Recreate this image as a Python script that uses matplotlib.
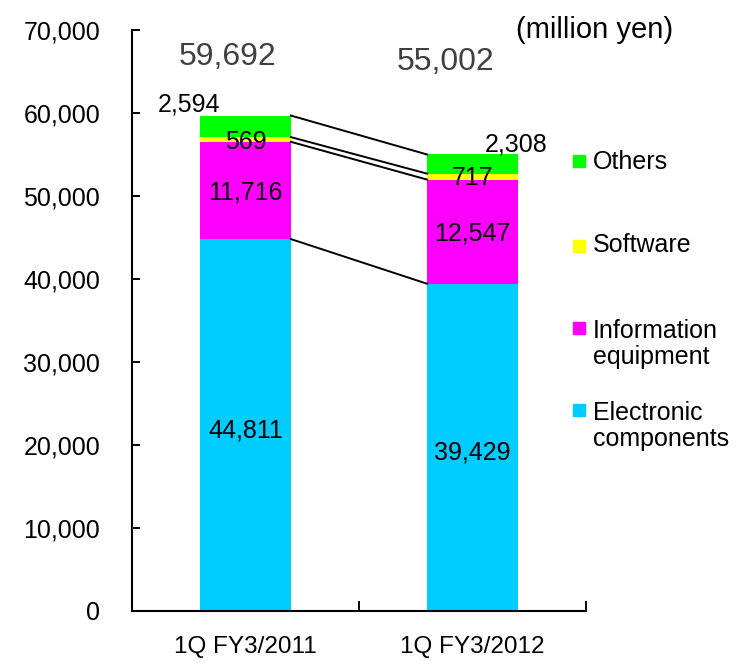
import matplotlib
matplotlib.use("Agg")
import matplotlib.pyplot as plt
from matplotlib.patches import Rectangle
import numpy as np

categories = ["1Q FY3/2011", "1Q FY3/2012"]
legend_labels = ["Electronic\ncomponents", "Information\nequipment", "Software", "Others"]
electronic = [44811, 39429]
information = [11716, 12547]
software = [569, 717]
others = [2594, 2308]
totals = [59692, 55002]
colors = ["#00CCFF", "#FF00FF", "#FFFF00", "#00FF00"]

plt.rcParams['font.family'] = ['Liberation Sans', 'DejaVu Sans']

W, H = 738, 664
fig = plt.figure(figsize=(W / 100, H / 100), dpi=100)
ax = fig.add_axes([132 / W, 1 - 611 / H, (586 - 132) / W, (611 - 30) / H])

x = np.arange(len(categories))
width = 0.40
series = [electronic, information, software, others]
bottom = np.zeros(len(categories))
tops = []
for vals, c in zip(series, colors):
    ax.bar(x, vals, width, bottom=bottom, color=c, edgecolor='none', zorder=2)
    bottom = bottom + np.array(vals)
    tops.append(bottom.copy())

# connector lines
for t in tops:
    ax.plot([x[0] + width / 2, x[1] - width / 2], [t[0], t[1]], color='black', lw=1.4, zorder=3)

ax.set_xlim(-0.5, 1.5)
ax.set_ylim(0, 70000)
ax.set_yticks(np.arange(0, 70001, 10000))
ax.set_yticklabels([f"{v:,}" for v in range(0, 70001, 10000)])
ax.tick_params(axis='y', direction='in', length=6, width=1.4, pad=23, labelsize=18)
ax.set_xticks(x)
ax.set_xticklabels(categories)
ax.tick_params(axis='x', length=0, pad=18, labelsize=17.5)
ax.set_xticks([-0.5, 0.5, 1.5], minor=True)
ax.tick_params(axis='x', which='minor', direction='in', length=7, width=1.4)
for s in ['top', 'right']:
    ax.spines[s].set_visible(False)
for s in ['left', 'bottom']:
    ax.spines[s].set_linewidth(1.5)

fs = 18
# segment labels
ax.text(x[0], electronic[0] / 2 - 600, f"{electronic[0]:,}", ha='center', va='center', fontsize=fs, zorder=4)
ax.text(x[1], electronic[1] / 2 - 560, f"{electronic[1]:,}", ha='center', va='center', fontsize=fs, zorder=4)
ax.text(x[0], tops[0][0] + information[0] / 2 - 190, f"{information[0]:,}", ha='center', va='center', fontsize=fs, zorder=4)
ax.text(x[1], tops[0][1] + information[1] / 2 - 280, f"{information[1]:,}", ha='center', va='center', fontsize=fs, zorder=4)
ax.text(x[0], tops[1][0] + software[0] / 2 - 300, f"{software[0]:,}", ha='center', va='center', fontsize=fs, zorder=4)
ax.text(x[1], tops[1][1] + software[1] / 2 - 170, f"{software[1]:,}", ha='center', va='center', fontsize=fs, zorder=4)
ax.text(x[0] - 0.25, tops[3][0] + 1300, f"{others[0]:,}", ha='center', va='center', fontsize=fs, zorder=4)
ax.text(x[1] + 0.19, tops[3][1] + 1150, f"{others[1]:,}", ha='center', va='center', fontsize=fs, zorder=4)

# totals
ax.text(x[0] - 0.08, 66750, f"{totals[0]:,}", ha='center', va='center', fontsize=23, color='#404040')
ax.text(x[1] - 0.12, 66150, f"{totals[1]:,}", ha='center', va='center', fontsize=23, color='#404040')

fig.text(595 / W, 1 - 30 / H, "(million yen)", ha='center', va='center', fontsize=21)

# legend (manual)
sq_y = {"Others": 161.5, "Software": 246, "Information\nequipment": 328, "Electronic\ncomponents": 410}
txt_top = {"Others": 150, "Software": 233, "Information\nequipment": 319, "Electronic\ncomponents": 401}
sq = 12
for lab, c in zip(legend_labels, colors):
    fig.patches.append(Rectangle((573 / W, 1 - (sq_y[lab] + sq / 2) / H), sq / W, sq / H,
                                 transform=fig.transFigure, color=c, figure=fig))
    fig.text(593 / W, 1 - txt_top[lab] / H, lab, ha='left', va='top', fontsize=18, linespacing=1.12)

fig.savefig("out.png", dpi=100)
